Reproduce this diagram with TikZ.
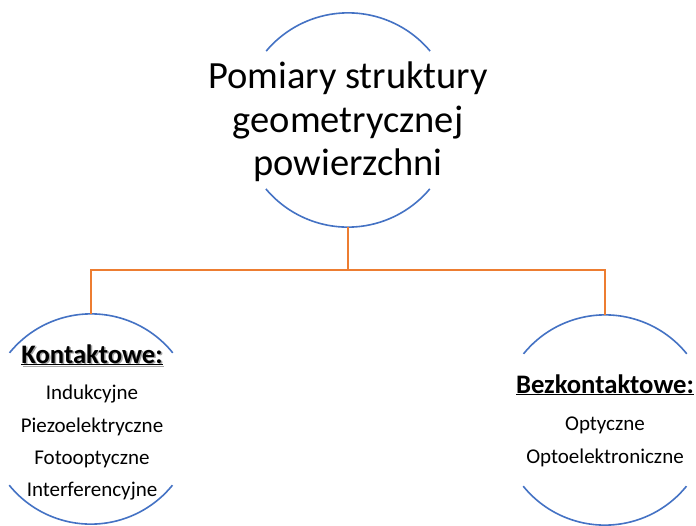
\documentclass[tikz,border=0pt]{standalone}
\usepackage{fontspec}
\setmainfont{Carlito}
\definecolor{arcblue}{HTML}{4472C4}
\definecolor{linkorange}{HTML}{ED7D31}
\begin{document}
\begin{tikzpicture}[x=1pt,y=-1pt,
  ring/.style={circle,draw=none,inner sep=0pt,minimum size=#1},
  arcline/.style={draw=arcblue,line width=1.6pt},
  link/.style={draw=linkorange,line width=2pt},
  title/.style={font=\fontsize{38.5}{46}\selectfont,anchor=base},
  head/.style={font=\fontsize{26.7}{32}\selectfont\bfseries,anchor=base},
  item/.style={font=\fontsize{21}{25}\selectfont,anchor=base}]
\useasboundingbox (0,0) rectangle (696,525);
\fill[white] (0,0) rectangle (696,525);
% circles (invisible nodes)
\node[ring=214pt] (top) at (348,120) {};
\node[ring=210pt] (left) at (91,419) {};
\node[ring=210pt] (right) at (605,420) {};
% arcs (y axis points down: visual angle a = coordinate angle -a)
\draw[arcline] (top.40) arc[start angle=-40,end angle=-140,radius=107];
\draw[arcline] (top.220) arc[start angle=140,end angle=40,radius=107];
\draw[arcline] (left.39) arc[start angle=-39,end angle=-141,radius=105];
\draw[arcline] (left.219) arc[start angle=141,end angle=39,radius=105];
\draw[arcline] (right.39) arc[start angle=-39,end angle=-141,radius=105];
\draw[arcline] (right.219) arc[start angle=141,end angle=39,radius=105];
% connectors
\coordinate (j) at (348,270);
\draw[link] (top.south) -- (j);
\draw[link] (j) -| (left.north);
\draw[link] (j) -| (right.north);
% title
\node[title] (t1) at (348,88) {Pomiary struktury};
\node[title] (t2) at (348,132) {geometrycznej};
\node[title] (t3) at (348,175) {powierzchni};
% left texts
\node[head,text=black!45,opacity=0.8] (k0) at (93.5,364.5) {\underline{Kontaktowe:}};
\node[head] (k) at (92,363) {\underline{Kontaktowe:}};
\node[item] (k1) at (92,399) {Indukcyjne};
\node[item] (k2) at (92,432) {Piezoelektryczne};
\node[item] (k3) at (92,464) {Fotooptyczne};
\node[item] (k4) at (92,496) {Interferencyjne};
% right texts
\node[head] (b) at (605,393) {\underline{Bezkontaktowe:}};
\node[item] (b1) at (605,430) {Optyczne};
\node[item] (b2) at (605,463) {Optoelektroniczne};
\end{tikzpicture}
\end{document}
